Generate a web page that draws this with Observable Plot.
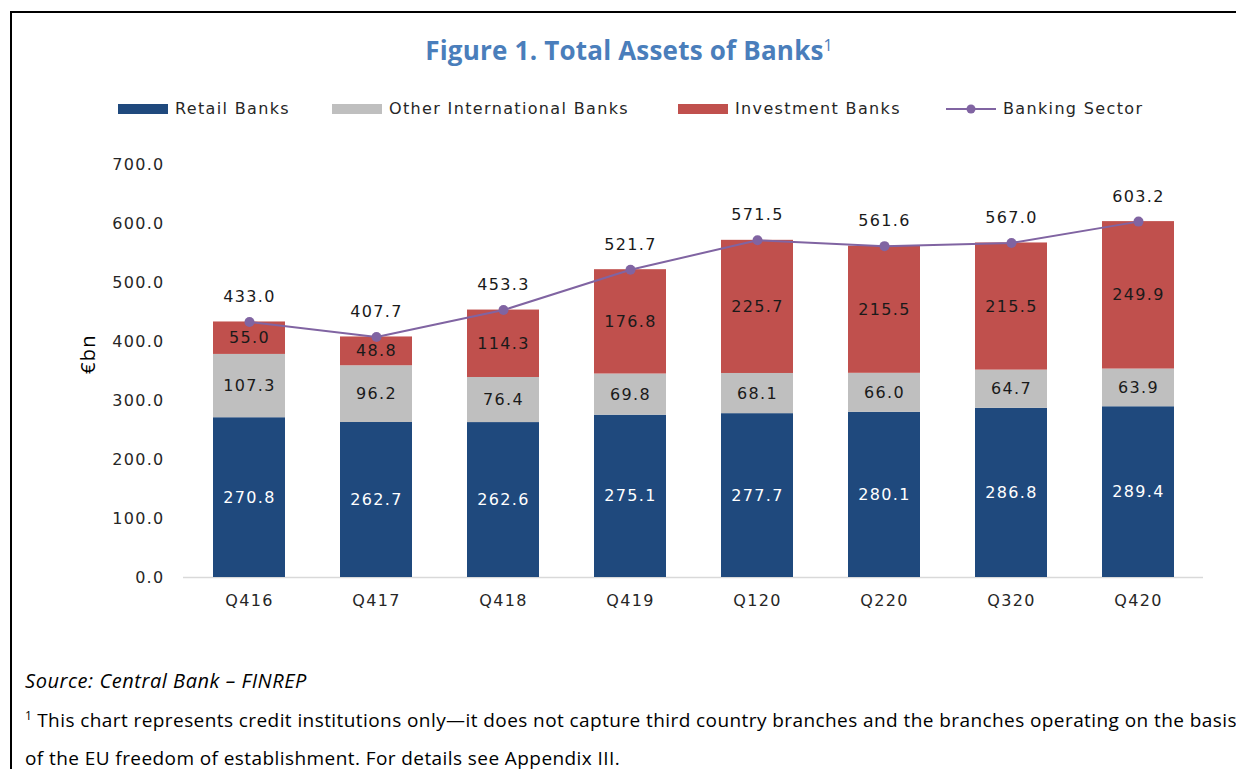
<!DOCTYPE html>
<html>
<head>
<meta charset="utf-8">
<script src="https://cdn.jsdelivr.net/npm/d3@7"></script>
<script src="https://cdn.jsdelivr.net/npm/@observablehq/plot@0.6"></script>
<style>
  html, body { margin: 0; padding: 0; background: #fff; width: 1236px; height: 769px; overflow: hidden; position: relative; }
  #frame { position: absolute; left: 10px; top: 11px; width: 1300px; height: 900px; border: 2px solid #000; box-sizing: border-box; }
  #title { position: absolute; left: 11px; width: 1236px; top: 32px; text-align: center; font-family: "Open Sans", sans-serif; font-weight: 700; font-size: 26px; letter-spacing: 0.2px; color: #4a7ebb; }
  #title sup { font-weight: 400; font-size: 16px; vertical-align: top; position: relative; top: 2px; letter-spacing: 0; }
  .leg { position: absolute; top: 99px; font-family: "DejaVu Sans", sans-serif; font-size: 16px; letter-spacing: 1.35px; color: #262626; display: flex; align-items: center; white-space: nowrap; }
  .sw { display: inline-block; width: 50px; height: 10px; margin-right: 7px; }
  #chart { position: absolute; left: 0; top: 140px; }
  #chart text { letter-spacing: 1.3px; }
  .cap { position: absolute; left: 25px; font-family: "Open Sans", sans-serif; font-size: 19px; letter-spacing: 0.42px; color: #000; white-space: nowrap; }
</style>
</head>
<body>
<div id="frame"></div>
<div id="title">Figure 1. Total Assets of Banks<sup>1</sup></div>
<div id="legend"></div>
<div id="chart"></div>
<div class="cap" style="top:667px;font-style:italic;font-size:20px;letter-spacing:0.55px;">Source: Central Bank – FINREP</div>
<div class="cap" style="top:707px;"><sup style="font-size:12px;letter-spacing:0;">1</sup> This chart represents credit institutions only—it does not capture third country branches and the branches operating on the basis</div>
<div class="cap" style="top:745px;">of the EU freedom of establishment. For details see Appendix III.</div>
<script>
const quarters = ["Q416", "Q417", "Q418", "Q419", "Q120", "Q220", "Q320", "Q420"];
const retail = [270.8, 262.7, 262.6, 275.1, 277.7, 280.1, 286.8, 289.4];
const otherIntl = [107.3, 96.2, 76.4, 69.8, 68.1, 66.0, 64.7, 63.9];
const investment = [55.0, 48.8, 114.3, 176.8, 225.7, 215.5, 215.5, 249.9];
const bankingSector = [433.0, 407.7, 453.3, 521.7, 571.5, 561.6, 567.0, 603.2];
const seriesNames = ["Retail Banks", "Other International Banks", "Investment Banks"];
const seriesColors = ["#1f497d", "#bfbfbf", "#c0504d"];
const lineName = "Banking Sector";
const lineColor = "#8064a2";
const yTicks = [0, 100, 200, 300, 400, 500, 600, 700];

// legend
const legend = document.getElementById("legend");
const legX = [118, 332, 678];
seriesNames.forEach((n, i) => {
  const d = document.createElement("div");
  d.className = "leg";
  d.style.left = legX[i] + "px";
  d.innerHTML = `<span class="sw" style="background:${seriesColors[i]}"></span>${n}`;
  legend.appendChild(d);
});
{
  const d = document.createElement("div");
  d.className = "leg";
  d.style.left = "946px";
  d.innerHTML = `<svg width="50" height="12" style="margin-right:7px"><line x1="0" y1="6" x2="50" y2="6" stroke="${lineColor}" stroke-width="2"/><circle cx="25" cy="6" r="4.5" fill="${lineColor}"/></svg>${lineName}`;
  legend.appendChild(d);
}

const stacked = [];
quarters.forEach((q, i) => {
  stacked.push({q, s: seriesNames[0], v: retail[i]});
  stacked.push({q, s: seriesNames[1], v: otherIntl[i]});
  stacked.push({q, s: seriesNames[2], v: investment[i]});
});
const totals = quarters.map((q, i) => ({q, v: bankingSector[i]}));
const labelFill = {[seriesNames[0]]: "#ffffff", [seriesNames[1]]: "#1a1a1a", [seriesNames[2]]: "#1a1a1a"};

const chart = Plot.plot({
  width: 1236,
  height: 480,
  marginLeft: 183,
  marginRight: 33,
  marginTop: 24,
  marginBottom: 43,
  style: { fontFamily: "'DejaVu Sans', sans-serif", fontSize: "16px", color: "#262626", background: "transparent" },
  x: { domain: quarters, paddingInner: 0.435, paddingOuter: 0.2175, label: null, tickSize: 0, tickPadding: 17 },
  y: { domain: [0, 700], ticks: yTicks, tickFormat: d => d.toFixed(1), tickSize: 0, tickPadding: 19, label: null },
  color: { domain: seriesNames, range: seriesColors },
  marks: [
    Plot.ruleY([0], { stroke: "#d9d9d9", strokeWidth: 1.5 }),
    Plot.barY(stacked, { x: "q", y: "v", fill: "s", order: seriesNames }),
    Plot.text(stacked, Plot.stackY({ x: "q", y: "v", z: "s", order: seriesNames, text: d => d.v.toFixed(1), fill: d => labelFill[d.s], fontSize: 16 })),
    Plot.line(totals, { x: "q", y: "v", stroke: lineColor, strokeWidth: 2 }),
    Plot.dot(totals, { x: "q", y: "v", fill: lineColor, r: 5 }),
    Plot.text(totals, { x: "q", y: "v", text: d => d.v.toFixed(1), dy: -25, fontSize: 16, fill: "#1a1a1a" }),
    Plot.text(["€bn"], { frameAnchor: "left", dx: -95, dy: 3, rotate: -90, fontSize: 20, fill: "#000", fontFamily: "'Open Sans', sans-serif" })
  ]
});
chart.querySelectorAll('[aria-label="x-axis tick label"] text, [aria-label="y-axis tick label"] text').forEach(t => t.setAttribute("font-size", "16"));
document.getElementById("chart").appendChild(chart);
</script>
</body>
</html>
